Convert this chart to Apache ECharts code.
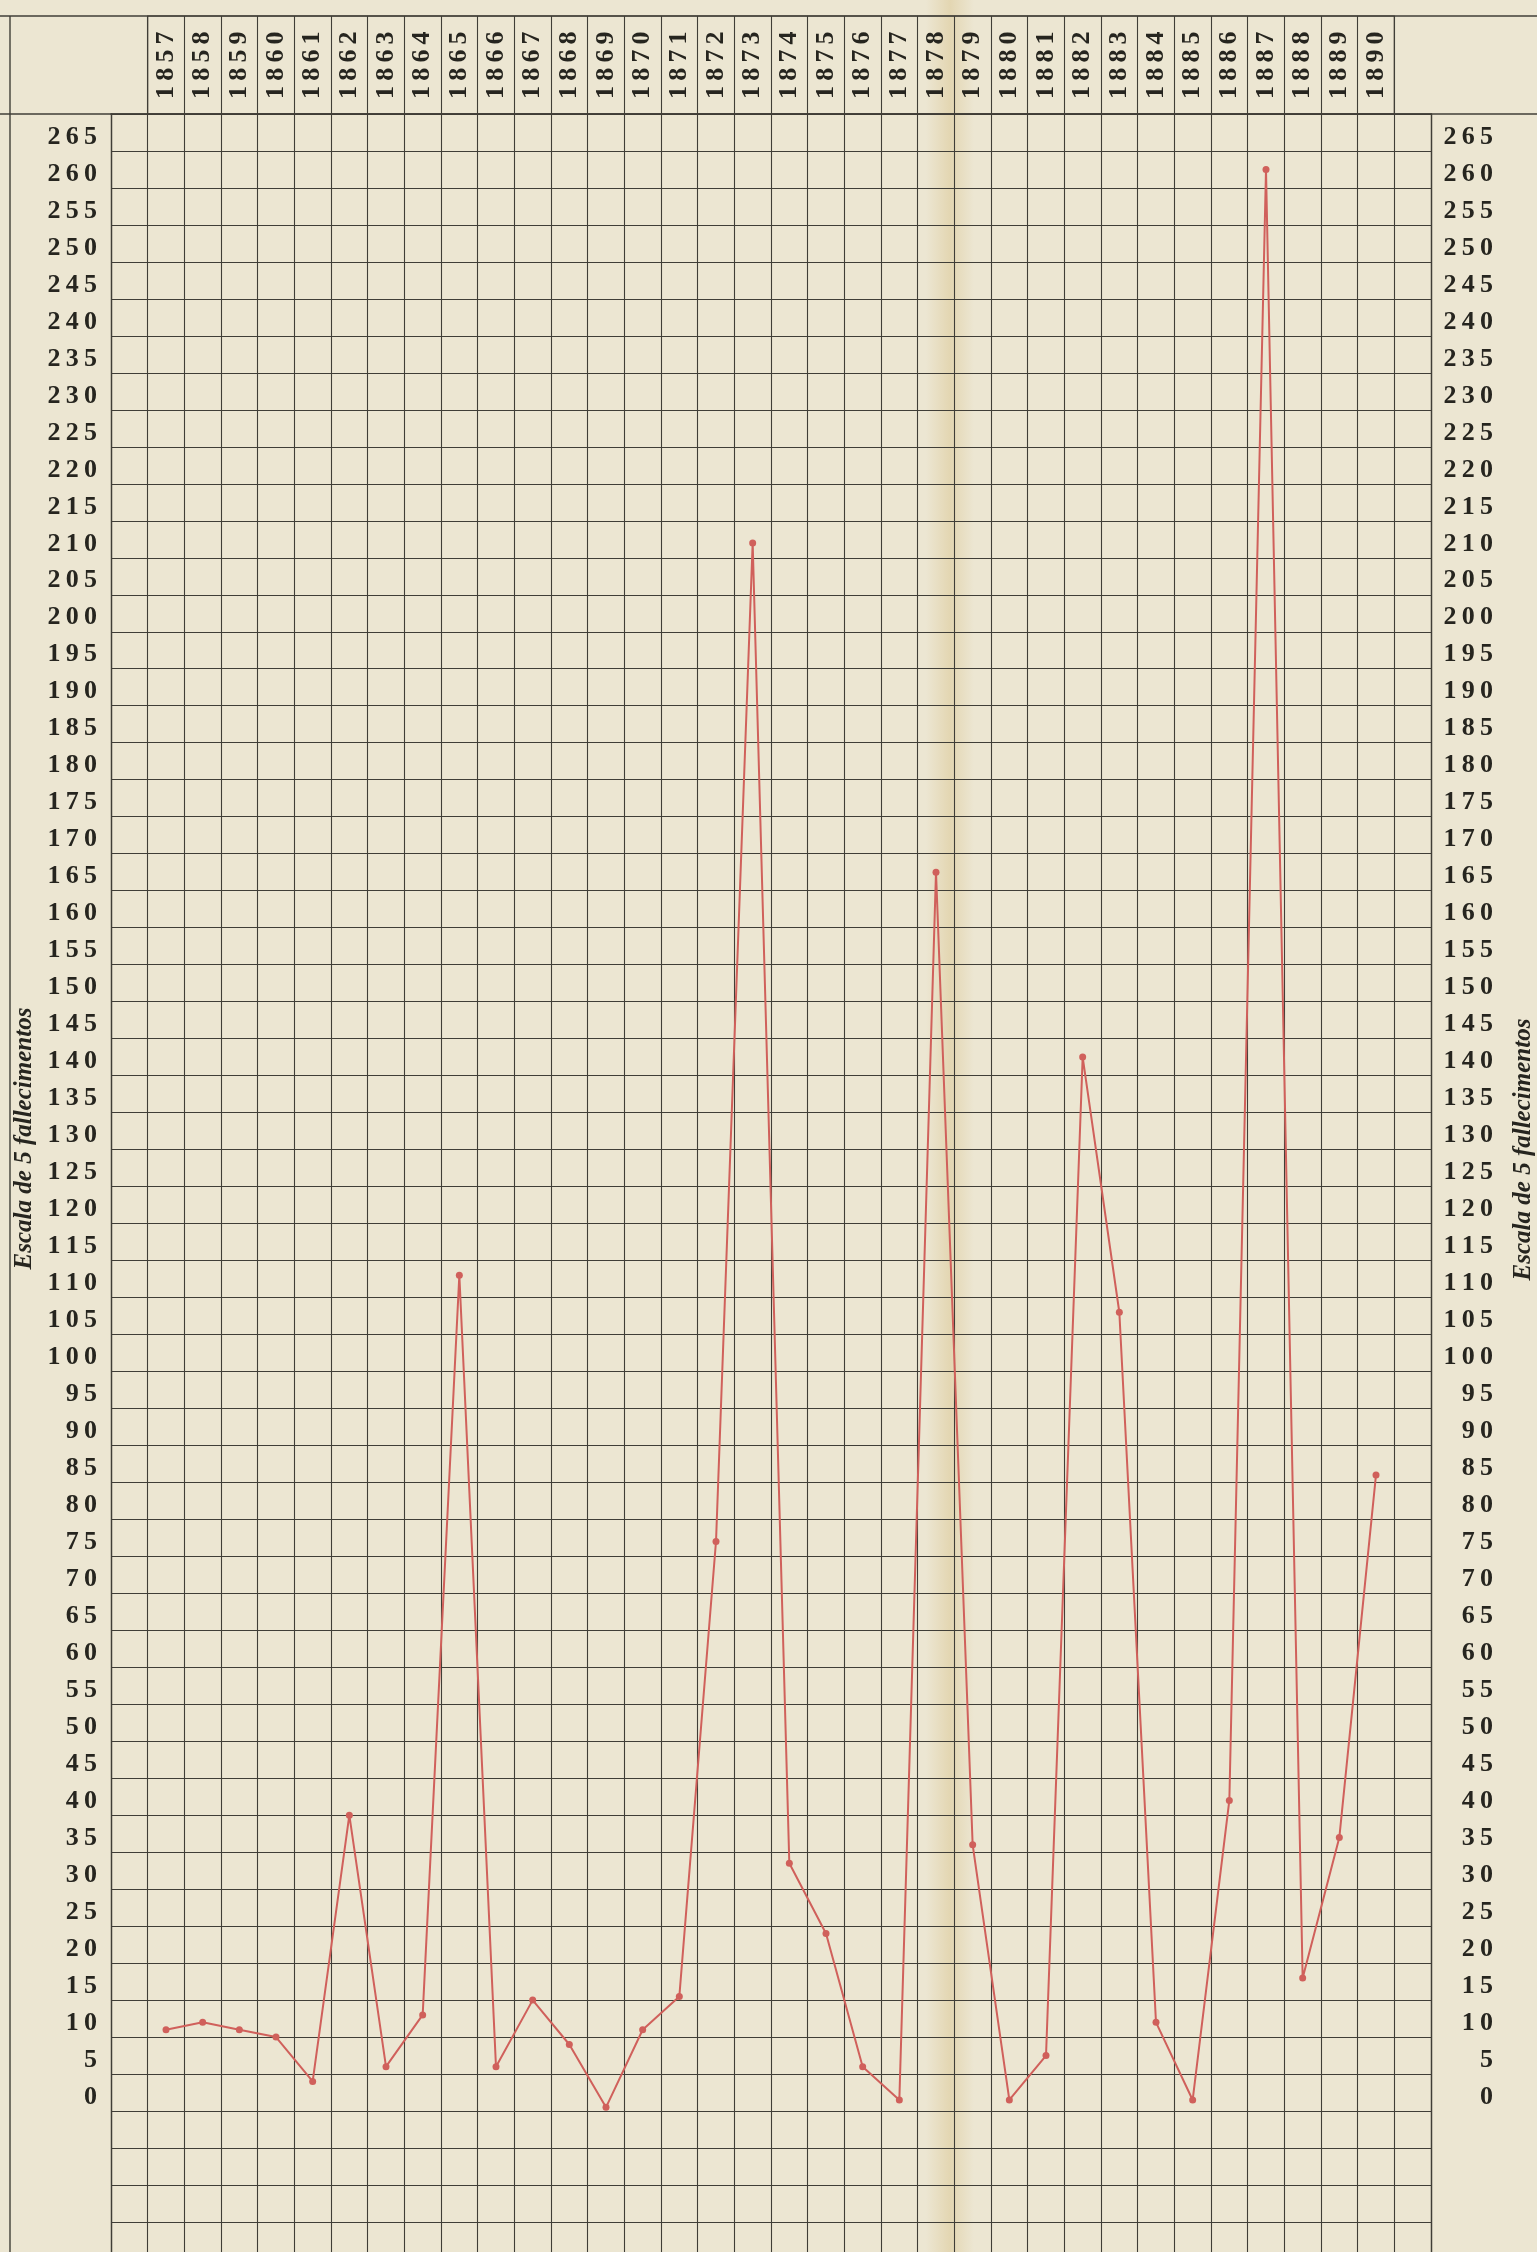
<!DOCTYPE html>
<html>
<head>
<meta charset="utf-8">
<script src="https://cdn.jsdelivr.net/npm/echarts@6/dist/echarts.min.js"></script>
<style>
  html, body { margin: 0; padding: 0; background: #ece6d2; overflow: hidden; }
  #chart { width: 1537px; height: 2252px; }
</style>
</head>
<body>
<div id="chart"></div>
<script>
const years = [1857, 1858, 1859, 1860, 1861, 1862, 1863, 1864, 1865, 1866, 1867, 1868,
  1869, 1870, 1871, 1872, 1873, 1874, 1875, 1876, 1877, 1878, 1879, 1880, 1881, 1882,
  1883, 1884, 1885, 1886, 1887, 1888, 1889, 1890]
const deaths = [11, 12, 11, 10, 4, 40, 6, 13, 113, 6, 15, 9,
  0.5, 11, 15.5, 77, 212, 33.5, 24, 6, 1.5, 167.5, 36, 1.5, 7.5, 142.5,
  108, 12, 1.5, 42, 262.5, 18, 37, 86]
const scaleTitle = 'Escala de 5 fallecimentos'

// one blank column either side of the years, as on the sheet
const columns = ['', ...years.map(String), '']
const values = [null, ...deaths, null]

const ink = '#26251f'
const rule = '#403e37'
const red = '#d0605b'

function spaced(v) {
  return String(v).split('').join('\u2009')
}

function scaleLabel(v) {
  return v < 0 || v > 265 ? '' : spaced(v)
}

const chart = echarts.init(document.getElementById('chart'))

const yLabel = {
  fontFamily: 'Liberation Serif',
  fontSize: 26,
  fontWeight: 'bold',
  color: ink,
  verticalAlign: 'bottom',
  lineHeight: 28,
  formatter: scaleLabel,
}

const titleStyle = {
  fontFamily: 'Liberation Serif',
  fontStyle: 'italic',
  fontWeight: 'bold',
  fontSize: 25,
  color: ink,
}

chart.setOption({
  backgroundColor: '#ece6d2',
  animation: false,
  grid: [
    { left: 111, right: 106, top: 114, height: 2145, show: false, outerBoundsMode: 'none' },
    { left: 147.7, right: 142.7, top: 16, height: 98, show: true, borderColor: rule, borderWidth: 1.2, outerBoundsMode: 'none' },
  ],
  graphic: [
    {
      type: 'rect', z: -1, silent: true,
      shape: { x: 926, y: 0, width: 48, height: 2252 },
      style: {
        fill: new echarts.graphic.LinearGradient(0, 0, 1, 0, [
          { offset: 0, color: 'rgba(214,190,130,0)' },
          { offset: 0.5, color: 'rgba(214,190,130,0.4)' },
          { offset: 1, color: 'rgba(214,190,130,0)' },
        ]),
      },
    },
    { type: 'line', silent: true, shape: { x1: 0, y1: 16, x2: 1537, y2: 16 }, style: { stroke: rule, lineWidth: 1.6 } },
    { type: 'line', silent: true, shape: { x1: 0, y1: 114, x2: 1537, y2: 114 }, style: { stroke: rule, lineWidth: 1.6 } },
    { type: 'line', silent: true, shape: { x1: 10, y1: 16, x2: 10, y2: 2252 }, style: { stroke: rule, lineWidth: 1.4 } },
  ],
  xAxis: [
    {
      type: 'category',
      gridIndex: 0,
      position: 'top',
      data: columns,
      boundaryGap: true,
      axisLine: { show: true, onZero: false, lineStyle: { color: rule, width: 1.6 } },
      axisTick: { show: false },
      axisLabel: {
        interval: 0,
        rotate: -90,
        margin: 15,
        fontFamily: 'Liberation Serif',
        fontSize: 26,
        fontWeight: 'bold',
        color: ink,
        formatter: spaced,
      },
      splitLine: { show: true, interval: 0, lineStyle: { color: rule, width: 1.1 } },
    },
    {
      type: 'category',
      gridIndex: 1,
      data: years.map(String),
      boundaryGap: true,
      axisLine: { show: false },
      axisTick: { show: false },
      axisLabel: { show: false },
      splitLine: { show: true, interval: 0, lineStyle: { color: rule, width: 1.1 } },
    },
  ],
  yAxis: [
    {
      type: 'value',
      gridIndex: 0,
      position: 'left',
      min: -20,
      max: 270,
      interval: 5,
      axisLine: { show: true, onZero: false, lineStyle: { color: rule, width: 1.4 } },
      axisTick: { show: false },
      axisLabel: { ...yLabel, margin: 14 },
      splitLine: { show: true, lineStyle: { color: rule, width: 1.1 } },
      name: scaleTitle,
      nameLocation: 'middle',
      nameRotate: 90,
      nameGap: 71,
      nameTextStyle: { ...titleStyle, padding: [0, 0, 0, 96] },
    },
    {
      type: 'value',
      gridIndex: 0,
      position: 'right',
      min: -20,
      max: 270,
      interval: 5,
      axisLine: { show: true, onZero: false, lineStyle: { color: rule, width: 1.4 } },
      axisTick: { show: false },
      axisLabel: { ...yLabel, align: 'right', margin: 62 },
      splitLine: { show: false },
      name: scaleTitle,
      nameLocation: 'middle',
      nameRotate: 90,
      nameGap: 80,
      nameTextStyle: { ...titleStyle, padding: [0, 0, 0, 74] },
    },
    { type: 'value', gridIndex: 1, show: false },
  ],
  series: [
    {
      type: 'line',
      xAxisIndex: 0,
      yAxisIndex: 0,
      data: values,
      symbol: 'circle',
      symbolSize: 7,
      lineStyle: { color: red, width: 2 },
      itemStyle: { color: red },
      z: 5,
    },
  ],
})
</script>
</body>
</html>
